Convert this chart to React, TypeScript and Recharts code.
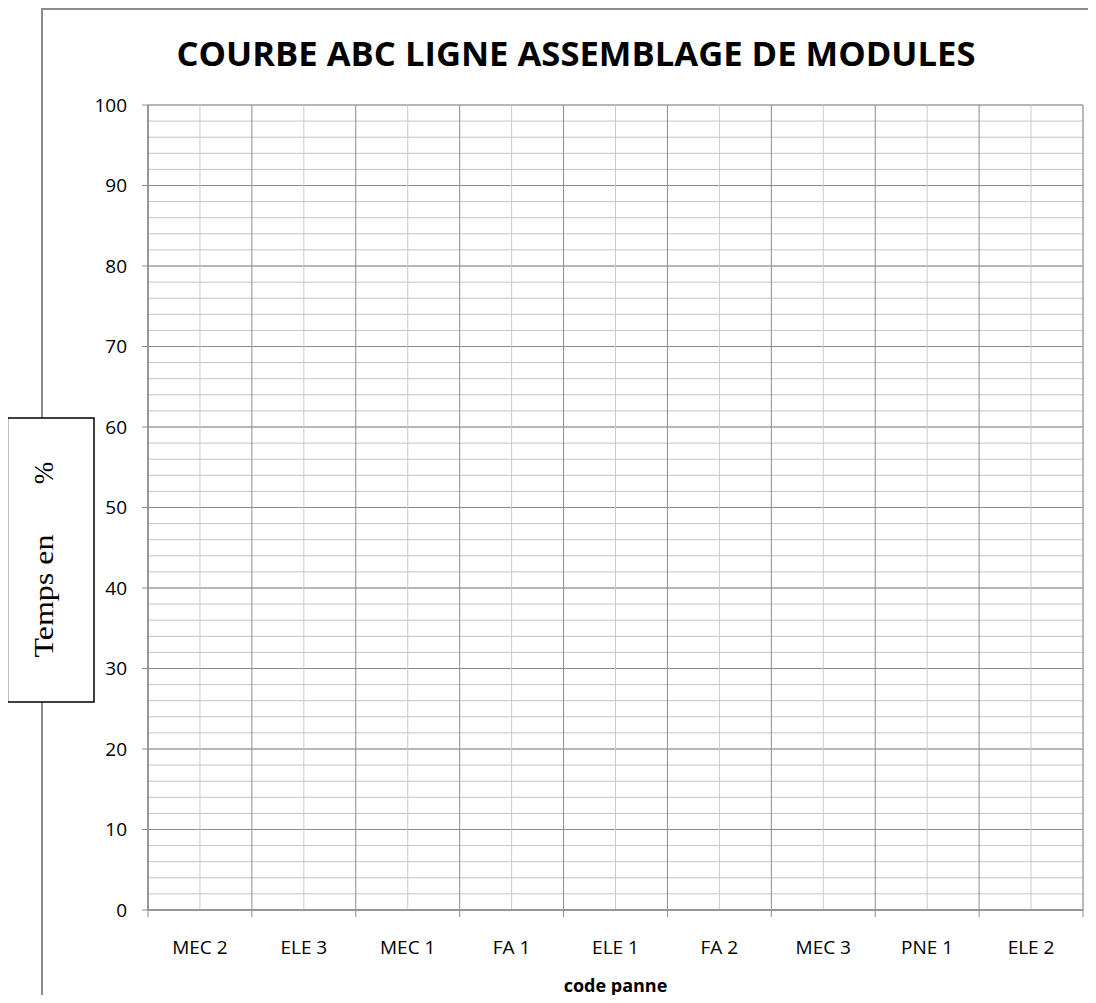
import React from 'react';
import { LineChart, Line, XAxis, YAxis, CartesianGrid } from 'recharts';

// ABC curve for the module assembly line — the reference grid is empty (no values plotted)
const codesPanne = ['MEC 2', 'ELE 3', 'MEC 1', 'FA 1', 'ELE 1', 'FA 2', 'MEC 3', 'PNE 1', 'ELE 2'];
const tempsPct: (number | null)[] = [null, null, null, null, null, null, null, null, null];
const majorTicks = [0, 10, 20, 30, 40, 50, 60, 70, 80, 90, 100];
const minorTicks = [0, 2, 4, 6, 8, 10, 12, 14, 16, 18, 20, 22, 24, 26, 28, 30, 32, 34, 36, 38, 40, 42, 44, 46, 48, 50, 52, 54, 56, 58, 60, 62, 64, 66, 68, 70, 72, 74, 76, 78, 80, 82, 84, 86, 88, 90, 92, 94, 96, 98, 100];
const boundaryTicks = [0, 1, 2, 3, 4, 5, 6, 7, 8, 9];

const data = codesPanne.map((code, i) => ({ code, temps: tempsPct[i] }));
const boundaryData = boundaryTicks.map(b => ({ b, v: null }));

const font = '"Open Sans", sans-serif';

const YLabelBox = () => (
  <g>
    <rect x={7.5} y={418} width={86.5} height={284} fill="#fff" stroke="#000" strokeWidth={1.5} />
    <text
      x={53}
      y={596}
      transform="rotate(-90, 53, 596)"
      textAnchor="middle"
      fontFamily='"Liberation Serif", serif'
      fontSize={27}
      textLength={123}
      lengthAdjust="spacingAndGlyphs"
      fill="#000"
    >
      Temps en
    </text>
    <text
      x={53}
      y={473}
      transform="rotate(-90, 53, 473)"
      textAnchor="middle"
      fontFamily='"Liberation Serif", serif'
      fontSize={27}
      fill="#000"
    >
      %
    </text>
  </g>
);

// boundary axis shows tick marks only, no text
const NoLabel = () => <g />;

export default function App() {
  return (
    <div style={{ position: 'relative', width: 1096, height: 1003, margin: -8, background: '#fff', overflow: 'hidden', fontFamily: font }}>
      {/* chart frame (only top / left edges visible) */}
      <div style={{ position: 'absolute', left: 41, top: 8, width: 1200, height: 1200, borderTop: '2px solid #8c8c8c', borderLeft: '2px solid #8c8c8c' }} />

      <svg width={1096} height={1003} style={{ position: 'absolute', left: 0, top: 0 }}>
        <text x={576} y={66} textAnchor="middle" fontFamily={font} fontWeight={700} fontSize={34} textLength={799} lengthAdjust="spacingAndGlyphs" fill="#000">
          COURBE ABC LIGNE ASSEMBLAGE DE MODULES
        </text>
      </svg>

      <div style={{ position: 'absolute', left: 0, top: 0 }}>
        <LineChart width={1096} height={1003} data={data} margin={{ top: 105, right: 13, bottom: 0, left: 48 }}>
          <CartesianGrid vertical={false} yAxisId="minor" stroke="#c4c4c4" />
          <CartesianGrid vertical={false} stroke="#8c8c8c" />
          <CartesianGrid horizontal={false} xAxisId="cat" stroke="#cacaca" />
          <CartesianGrid horizontal={false} stroke="#8c8c8c" />
          {/* category boundaries: tick marks + darker vertical grid */}
          <XAxis
            dataKey="b"
            type="number"
            domain={[0, 9]}
            ticks={boundaryTicks}
            interval={0}
            allowDataOverflow
            tick={<NoLabel />}
            tickSize={7}
            height={8}
            axisLine={{ stroke: '#8c8c8c', strokeWidth: 1.5 }}
            tickLine={{ stroke: '#8c8c8c' }}
          />
          <XAxis
            xAxisId="cat"
            dataKey="code"
            scale="band"
            axisLine={false}
            tickLine={false}
            height={85}
            tickMargin={17}
            tick={{ fontSize: 19, fill: '#000', fontFamily: font }}
            interval={0}
            label={{ value: 'code panne', position: 'insideBottom', offset: 11, fontSize: 18, fontWeight: 700, fill: '#000', fontFamily: font }}
          />
          <YAxis
            domain={[0, 100]}
            ticks={majorTicks}
            interval={0}
            width={100}
            tickSize={6}
            tickMargin={15}
            allowDataOverflow
            axisLine={{ stroke: '#8c8c8c', strokeWidth: 1.5 }}
            tickLine={{ stroke: '#8c8c8c' }}
            tick={{ fontSize: 19, fill: '#000', fontFamily: font }}
            label={{ content: () => <YLabelBox /> }}
          />
          <YAxis yAxisId="minor" hide domain={[0, 100]} ticks={minorTicks} interval={0} allowDataOverflow />
          <Line data={boundaryData} dataKey="v" stroke="none" dot={false} legendType="none" isAnimationActive={false} />
          <Line xAxisId="cat" dataKey="temps" stroke="#4f81bd" strokeWidth={2} dot={false} isAnimationActive={false} />
        </LineChart>
      </div>
    </div>
  );
}
